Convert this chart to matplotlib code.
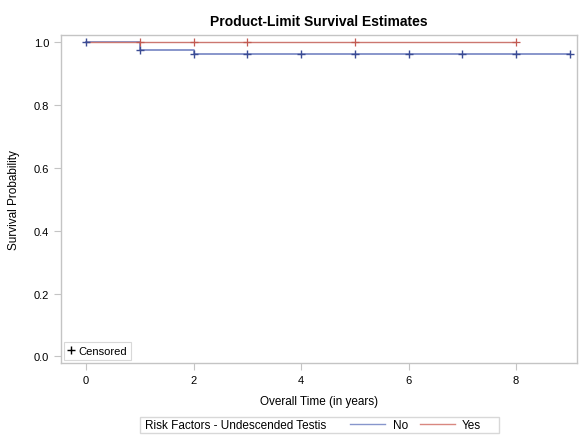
import numpy as np
import matplotlib
matplotlib.use("Agg")
import matplotlib.pyplot as plt
from matplotlib.lines import Line2D
from matplotlib.patches import Rectangle

plt.rcParams["font.family"] = ["Liberation Sans", "DejaVu Sans"]

# Kaplan-Meier step data (time in years, survival probability)
no_times = [0, 1, 2, 9]
no_surv = [1.0, 0.975, 0.963, 0.963]
no_censor = [0, 1, 2, 3, 4, 5, 6, 7, 8, 9]

yes_times = [0, 8]
yes_surv = [1.0, 1.0]
yes_censor = [1, 2, 3, 5, 8]

x_ticks = [0, 2, 4, 6, 8]
y_ticks = [0.0, 0.2, 0.4, 0.6, 0.8, 1.0]

blue_line = "#7484c2"
blue_mark = "#3b4c94"
red_line = "#cc7770"
red_mark = "#c25a52"
frame_gray = "#c4c4c4"


def surv_at(times, surv, t):
    idx = np.searchsorted(times, t, side="right") - 1
    return np.asarray(surv)[idx]


fig = plt.figure(figsize=(5.79, 4.39), dpi=100)
ax = fig.add_axes([0.105, 0.170, 0.892, 0.748])

ax.step(no_times, no_surv, where="post", color=blue_line, lw=1.2)
ax.step(yes_times, yes_surv, where="post", color=red_line, lw=1.0)
ax.plot(no_censor, surv_at(no_times, no_surv, no_censor), "+",
        color=blue_mark, ms=6, mew=1.0)
ax.plot(yes_censor, surv_at(yes_times, yes_surv, yes_censor), "+",
        color=red_mark, ms=6, mew=0.9)

ax.set_xlim(-0.47, 9.14)
ax.set_ylim(-0.022, 1.023)
ax.set_xticks(x_ticks)
ax.set_yticks(y_ticks)
ax.set_yticklabels([f"{v:.1f}" for v in y_ticks])
ax.tick_params(colors=frame_gray, labelcolor="black", labelsize=8,
               length=5, width=0.8, direction="out")
for sp in ax.spines.values():
    sp.set_color(frame_gray)
    sp.set_linewidth(1.0)

ax.set_xlabel("Overall Time (in years)", fontsize=8.5, labelpad=7)
ax.set_ylabel("Survival Probability", fontsize=8.5, labelpad=10)
ax.set_title("Product-Limit Survival Estimates", fontsize=10,
             fontweight="bold", pad=7)

# censored key inside the plot
cens = ax.legend([Line2D([], [], ls="", marker="+", color="black", ms=6)],
                 ["Censored"], loc="lower left", fontsize=8,
                 handlelength=0.6, handletextpad=0.3, borderpad=0.35,
                 fancybox=False, edgecolor="#d8d8d8", framealpha=1,
                 borderaxespad=0.3)
cens.get_frame().set_linewidth(0.8)

# group legend below the plot
fig.add_artist(Rectangle((140 / 579, 1 - 434 / 439), 359 / 579, 16 / 439,
                         transform=fig.transFigure, fill=False,
                         edgecolor="#d8d8d8", lw=1.0))
fig.text(145 / 579, 1 - 426 / 439, "Risk Factors - Undescended Testis",
         fontsize=8.5, va="center", ha="left")
fig.legend([Line2D([], [], color="#8796cc", lw=1.0),
            Line2D([], [], color="#d98880", lw=1.0)],
           ["No", "Yes"], ncol=2, frameon=False, fontsize=8.5,
           loc="center left", bbox_to_anchor=(350 / 579, 1 - 426 / 439),
           handlelength=3.0, handletextpad=0.6, columnspacing=1.0,
           borderpad=0, borderaxespad=0)

fig.savefig("out.png", dpi=100)
